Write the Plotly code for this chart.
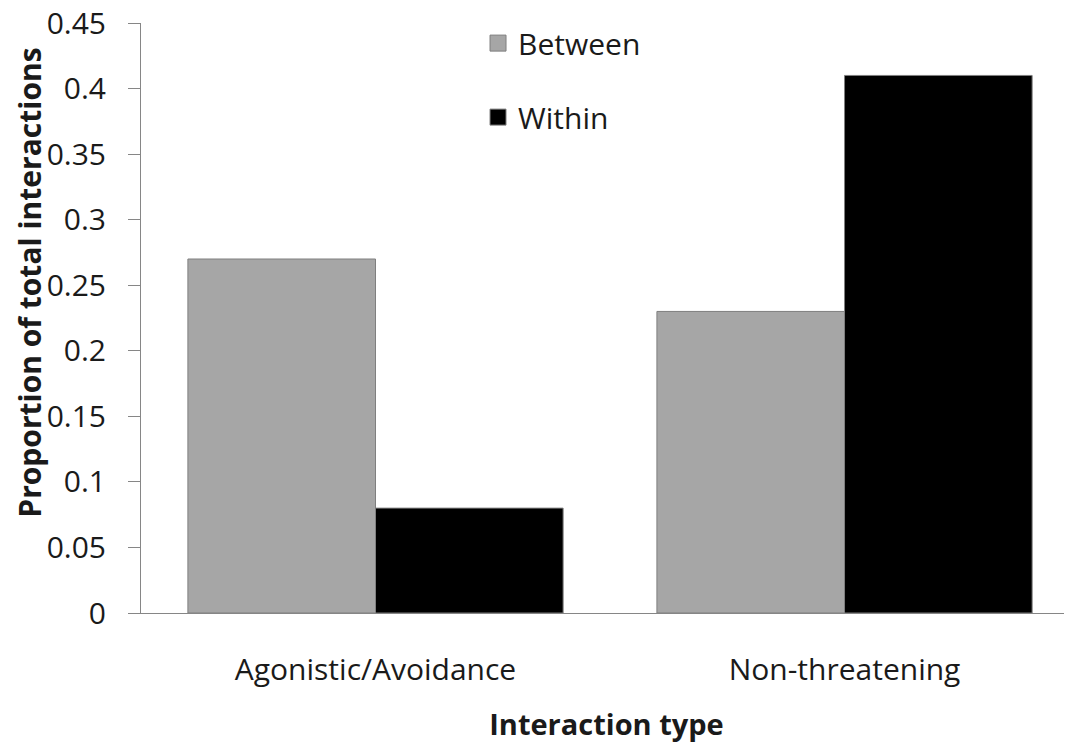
import plotly.graph_objects as go

# Data
categories = ["Agonistic/Avoidance", "Non-threatening"]
between = [0.27, 0.23]
within = [0.08, 0.41]
y_ticks = [0, 0.05, 0.1, 0.15, 0.2, 0.25, 0.3, 0.35, 0.4, 0.45]
y_tick_text = ["0", "0.05", "0.1", "0.15", "0.2", "0.25", "0.3", "0.35", "0.4", "0.45"]

font_family = "Open Sans, Lato, sans-serif"
between_color = "#A6A6A6"
within_color = "#000000"
edge_color = "#7F7F7F"

fig = go.Figure()
fig.add_trace(go.Bar(
    x=categories, y=between, name="Between", showlegend=False,
    marker=dict(color=between_color, line=dict(color=edge_color, width=1)),
))
fig.add_trace(go.Bar(
    x=categories, y=within, name="Within", showlegend=False,
    marker=dict(color=within_color, line=dict(color=edge_color, width=1)),
))

# legend-only entries with bigger square swatches
for name, color, grp in [("Between", between_color, "a"), ("Within", within_color, "b")]:
    fig.add_trace(go.Scatter(
        x=[None], y=[None], mode="markers", name=name, legendgroup=grp,
        marker=dict(symbol="square", size=16, color=color, line=dict(color=edge_color, width=1)),
    ))

fig.update_layout(
    width=1072, height=748,
    margin=dict(l=133, r=8, t=15, b=143, autoexpand=False),
    paper_bgcolor="white", plot_bgcolor="white",
    barmode="group", bargap=0.2, bargroupgap=0,
    font=dict(family=font_family, size=30, color="#1a1a1a"),
    legend=dict(
        x=0.362, y=1.01, xanchor="left", yanchor="top",
        traceorder="grouped", tracegroupgap=32,
        font=dict(size=30), bgcolor="rgba(0,0,0,0)",
    ),
    showlegend=True,
)

fig.update_xaxes(
    range=[-0.5, 1.485], automargin=False,
    showline=True, linecolor="#868686", linewidth=1,
    ticks="", ticklabelstandoff=30,
    tickfont=dict(size=30),
    title=dict(text="<b>Interaction type</b>", font=dict(size=29), standoff=26),
)
fig.update_yaxes(
    range=[0, 0.45], tickvals=y_ticks, ticktext=y_tick_text, automargin=False,
    showline=True, linecolor="#868686", linewidth=1,
    ticks="outside", ticklen=12, tickcolor="#868686",
    ticklabelstandoff=16, ticklabeloverflow="allow",
    showgrid=False, zeroline=False,
    tickfont=dict(size=30),
)

# y-axis title placed as in the original (sits a bit above the plot centre)
fig.add_annotation(
    text="<b>Proportion of total interactions</b>", textangle=-90,
    xref="paper", yref="paper", x=0, y=0.559,
    xanchor="left", yanchor="middle", xshift=-133,
    showarrow=False, font=dict(size=30), borderpad=0,
)

fig.write_html("out.html")
